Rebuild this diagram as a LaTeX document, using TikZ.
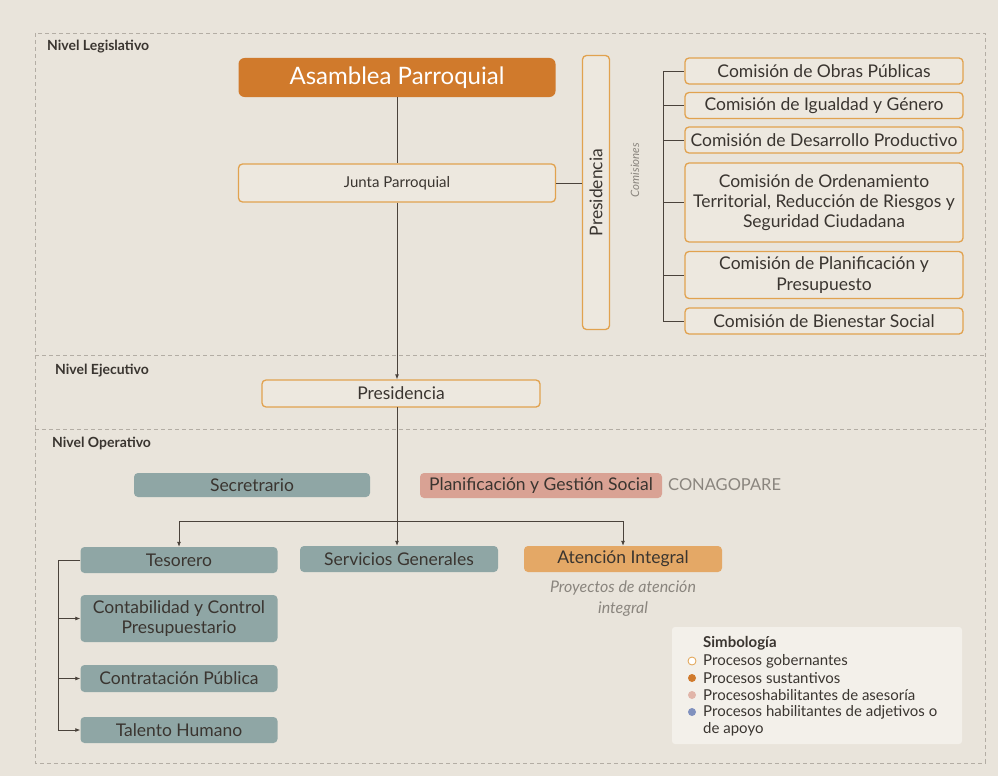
\documentclass[tikz,border=0pt]{standalone}
\usepackage{fontspec}
\setmainfont{Lato}
\usetikzlibrary{arrows.meta}
\definecolor{bgc}{HTML}{E9E4DB}
\definecolor{govline}{HTML}{E1A24F}
\definecolor{govfill}{HTML}{EDE8DF}
\definecolor{susc}{HTML}{D07A2C}
\definecolor{asec}{HTML}{D9A294}
\definecolor{apoc}{HTML}{8FA6A5}
\definecolor{atenc}{HTML}{E4A866}
\definecolor{txt}{HTML}{3A3530}
\definecolor{dashc}{HTML}{B3ADA4}
\definecolor{linec}{HTML}{4A423B}
\definecolor{greytxt}{HTML}{8A857E}
\definecolor{legfill}{HTML}{F3F0EA}
\begin{document}
\begin{tikzpicture}[x=1pt,y=-1pt,
 box/.style={rounded corners=4pt, inner sep=2pt, align=center, text=txt, font=\fontsize{17.5}{20}\selectfont},
 gov/.style={box, draw=govline, line width=1.3pt, fill=govfill},
 sus/.style={box, fill=susc, text=white},
 ase/.style={box, fill=asec},
 apo/.style={box, fill=apoc},
 aten/.style={box, fill=atenc},
 conn/.style={draw=linec, line width=0.8pt},
 arr/.style={conn, -{Latex[length=5pt,width=4pt]}},
 lvl/.style={font=\bfseries\fontsize{14}{16}\selectfont, text=txt, anchor=west, inner sep=0pt},
 dsh/.style={draw=dashc, dash pattern=on 4pt off 3pt, line width=0.8pt},
 bullet/.style={circle, inner sep=0pt, minimum size=8pt},
 legtxt/.style={font=\fontsize{15}{17}\selectfont, text=txt, anchor=west, inner sep=0pt},
 note/.style={text=greytxt, inner sep=0pt},
]
\fill[bgc] (0,0) rectangle (998,776);
\useasboundingbox (0,0) rectangle (998,776);
% dashed frame and level separators
\draw[dsh] (35,33) rectangle (985,763);
\draw[dsh] (35,355) -- (985,355);
\draw[dsh] (35,429) -- (985,429);
\node[lvl] (nl) at (47,47) {Nivel Legislativo};
\node[lvl] (ne) at (55,371) {Nivel Ejecutivo};
\node[lvl] (no) at (52,443) {Nivel Operativo};

% legislative
\node[sus, rounded corners=6pt, minimum width=317, minimum height=39, font=\fontsize{24}{28}\selectfont] (asamblea) at (397,77.5) {Asamblea Parroquial};
\node[gov, minimum width=317, minimum height=38, font=\fontsize{15}{18}\selectfont] (junta) at (397,183) {Junta Parroquial};
\node[gov, rotate=90, minimum width=274, minimum height=27] (presv) at (596,192.5) {Presidencia};
\node[note, rotate=90, font=\itshape\fontsize{11.5}{14}\selectfont] (comis) at (635,170) {Comisiones};

\node[gov, minimum width=278, minimum height=26] (c1) at (824,71) {Comisión de Obras Públicas};
\node[gov, minimum width=278, minimum height=26] (c2) at (824,105.5) {Comisión de Igualdad y Género};
\node[gov, minimum width=278, minimum height=26] (c3) at (824,140) {Comisión de Desarrollo Productivo};
\node[gov, minimum width=278, minimum height=79] (c4) at (824,202.5) {Comisión de Ordenamiento\\Territorial, Reducción de Riesgos y\\Seguridad Ciudadana};
\node[gov, minimum width=278, minimum height=47, font=\fontsize{17.5}{21}\selectfont] (c5) at (824,275) {Comisión de Planificación y\\Presupuesto};
\node[gov, minimum width=278, minimum height=26] (c6) at (824,321) {Comisión de Bienestar Social};

\coordinate (bt) at (663,71);
\draw[conn] (bt) -- (bt |- c6.west);
\foreach \c in {c1,c2,c3,c4,c5,c6} \draw[conn] (bt |- \c.west) -- (\c.west);
\draw[conn] (junta.east) -- (junta.east -| presv.north);

% executive
\node[gov, minimum width=278, minimum height=27] (pres) at (401,393.5) {Presidencia};
\draw[conn] (asamblea.south) -- (junta.north);
\draw[arr] (junta.south) -- (junta.south |- pres.north);

% operative
\node[apo, minimum width=236, minimum height=24] (secre) at (252,485) {Secretrario};
\node[ase, minimum width=242, minimum height=25] (plan) at (541,485.5) {Planificación y Gestión Social};
\node[note, anchor=west, font=\fontsize{16.5}{18}\selectfont] (cona) at (668,485) {CONAGOPARE};

\node[apo, minimum width=197, minimum height=26] (teso) at (179,560) {Tesorero};
\node[apo, minimum width=198, minimum height=26] (serv) at (399,559) {Servicios Generales};
\node[aten, minimum width=198, minimum height=26] (aten) at (623,559) {Atención Integral};
\node[note, align=center, font=\itshape\fontsize{16}{21}\selectfont] (proy) at (623,599) {Proyectos de atención\\integral};

\node[apo, minimum width=197, minimum height=47] (cont) at (179,618.5) {Contabilidad y Control\\Presupuestario};
\node[apo, minimum width=197, minimum height=27] (contr) at (179,678.5) {Contratación Pública};
\node[apo, minimum width=197, minimum height=26] (tal) at (179,730) {Talento Humano};

\coordinate (jn) at (397,521);
\draw[arr] (397,407) -- (serv.north -| jn);
\draw[arr] (jn) -| (teso.north);
\draw[arr] (jn) -| (aten.north);

\coordinate (lb) at (58,560);
\draw[conn] (teso.west) -- (lb) -- (lb |- tal.west);
\draw[arr] (lb |- cont.west) -- (cont.west);
\draw[arr] (lb |- contr.west) -- (contr.west);
\draw[arr] (lb |- tal.west) -- (tal.west);

% legend
\node[fill=legfill, rounded corners=3pt, minimum width=290, minimum height=117, inner sep=0pt] (leg) at (817,685.5) {};
\node[legtxt, font=\bfseries\fontsize{15}{17}\selectfont] (lt) at (703,643) {Simbología};
\node[bullet, draw=govline, fill=white, line width=0.8pt] (b1) at (692,661) {};
\node[legtxt] (l1) at (703,661) {Procesos gobernantes};
\node[bullet, fill=susc] (b2) at (692,678) {};
\node[legtxt] (l2) at (703,678) {Procesos sustantivos};
\node[bullet, fill=asec!80!white] (b3) at (692,695) {};
\node[legtxt] (l3) at (703,695) {Procesoshabilitantes de asesoría};
\node[bullet, fill=apoc!80!blue!90!white] (b4) at (692,712) {};
\node[legtxt] (l4) at (703,712) {Procesos habilitantes de adjetivos o};
\node[legtxt] (l5) at (703,729) {de apoyo};
\end{tikzpicture}
\end{document}
